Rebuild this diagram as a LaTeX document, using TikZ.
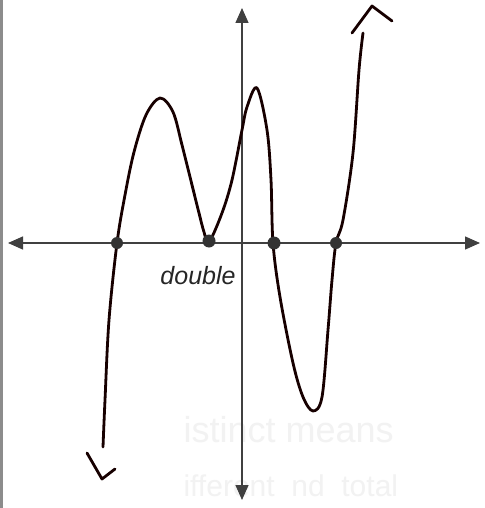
\documentclass[tikz,border=0pt]{standalone}
\usepackage{fontspec}
\setmainfont{Liberation Sans}
\usepackage{tikz}
\usetikzlibrary{arrows.meta,positioning}

\tikzset{
  axis/.style={line width=1.3pt,black!75,-{Triangle[length=15pt,width=13pt]}},
  root/.style={circle,fill=black!80,inner sep=0pt,minimum size=12pt},
  pen/.style={line width=2.8pt,black!85!red!60!black,line cap=round,line join=round},
  ghost/.style={black!5,font=\fontsize{36}{36}\selectfont}
}

\begin{document}
\begin{tikzpicture}[x=1pt,y=-1pt]
\useasboundingbox (0,0) rectangle (484,508);
\fill[white] (0,0) rectangle (484,508);
\fill[black!45] (0,0) rectangle (2.5,508);

% faint text showing through the page
\node[ghost,anchor=base west] (ghost1) at (180,442) {istinct means};
\node[ghost,anchor=base west,font=\fontsize{30}{30}\selectfont] (ghost2) at (180,496) {ifferent \ nd \ total};

% axes
\coordinate (o) at (242,243);
\coordinate (xl) at (8,243);
\coordinate (xr) at (480,243);
\coordinate (yt) at (242,8);
\coordinate (yb) at (242,500);
\draw[axis] (o) -- (xl);
\draw[axis] (o) -- (xr);
\draw[axis] (o) -- (yt);
\draw[axis] (o) -- (yb);

% the curve
\draw[pen] plot[smooth,tension=0.55] coordinates {
  (103,447) (105,400) (109,320) (117,243) (125,195) (134,152) (146,115) (160,98)
  (173,112) (182,145) (192,185) (199,213) (204,232) (209,242) (222,213) (232,180)
  (242,130) (247,107) (257,88) (267,130) (271,180) (273,243) (280,297)
  (293,363) (303,397) (313,411) (322,397) (328,330) (332,280) (336,243)
  (343,220) (353,153) (359,70) (363,33)};

% end chevrons
\draw[pen] (352,33) -- (372,6) -- (392,21);
\draw[pen] (87,453) -- (102,479) -- (115,469);

% roots
\node[root] (r1) at (117,243) {};
\node[root,minimum size=13pt] (r2) at (209,241) {};
\node[root,minimum size=13pt] (r3) at (274,243) {};
\node[root] (r4) at (336,243) {};

\node[font=\fontsize{25}{25}\selectfont\itshape,black!85] (dbl) at (198,276) {double};
\end{tikzpicture}
\end{document}
